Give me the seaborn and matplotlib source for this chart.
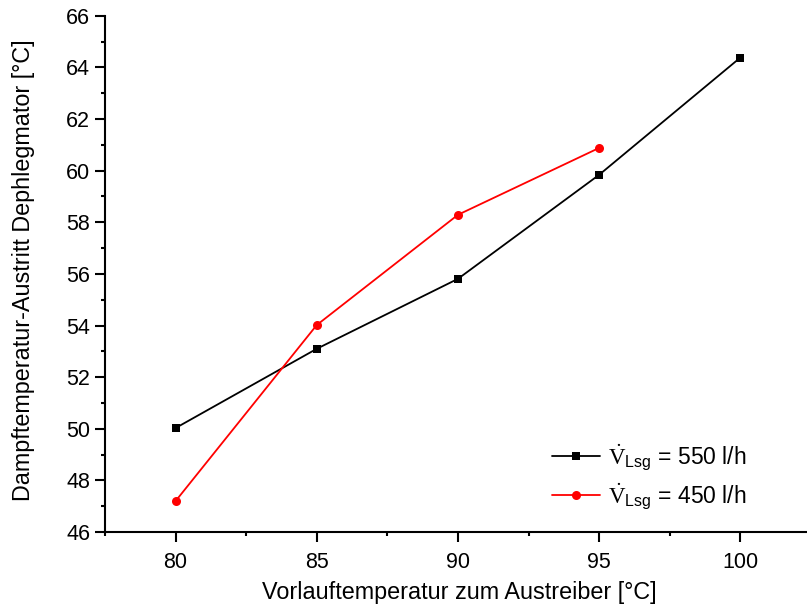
import seaborn as sns
import pandas as pd
import matplotlib
matplotlib.use('Agg')
import matplotlib.pyplot as plt
from matplotlib.ticker import MultipleLocator

# 数据
x_550 = [80, 85, 90, 95, 100]
y_550 = [50.03, 53.1, 55.81, 59.84, 64.38]
x_450 = [80, 85, 90, 95]
y_450 = [47.2, 54.02, 58.29, 60.88]
labels = [r'$\dot{\mathrm{V}}_{\mathsf{Lsg}}$ = 550 l/h',
          r'$\dot{\mathrm{V}}_{\mathsf{Lsg}}$ = 450 l/h']

sns.set_style('ticks')
plt.rcParams['font.family'] = ['Liberation Sans', 'DejaVu Sans']
plt.rcParams['mathtext.fontset'] = 'custom'
plt.rcParams['mathtext.rm'] = 'Liberation Serif'
plt.rcParams['mathtext.sf'] = 'Liberation Sans'
plt.rcParams['text.color'] = 'black'
plt.rcParams['axes.labelcolor'] = 'black'
plt.rcParams['xtick.color'] = 'black'
plt.rcParams['ytick.color'] = 'black'
plt.rcParams['axes.edgecolor'] = 'black'

fig = plt.figure(figsize=(8.07, 6.04), dpi=100)
ax = fig.add_axes([0.130, 0.119, 0.875, 0.855])

sns.lineplot(x=x_550, y=y_550, ax=ax, color='black', marker='s', markersize=6,
             markeredgewidth=0, linewidth=1.3, label=labels[0])
sns.lineplot(x=x_450, y=y_450, ax=ax, color='#ff0000', marker='o', markersize=6.5,
             markeredgewidth=0, linewidth=1.3, label=labels[1])

ax.set_xlim(77.5, 102.5)
ax.set_ylim(46, 66)
ax.xaxis.set_major_locator(MultipleLocator(5))
ax.xaxis.set_minor_locator(MultipleLocator(2.5))
ax.yaxis.set_major_locator(MultipleLocator(2))
ax.yaxis.set_minor_locator(MultipleLocator(1))
ax.tick_params(which='major', length=7, width=1.5, labelsize=15.5, direction='out')
ax.tick_params(which='minor', length=3, width=1.5, direction='out')
ax.tick_params(axis='x', which='major', pad=7)
for s in ['top', 'right']:
    ax.spines[s].set_visible(False)
for s in ['left', 'bottom']:
    ax.spines[s].set_linewidth(1.5)

ax.set_xlabel('Vorlauftemperatur zum Austreiber [°C]', fontsize=16.8)
ax.set_ylabel('Dampftemperatur-Austritt Dephlegmator [°C]', fontsize=16.8)
ax.xaxis.set_label_coords(0.502, -0.094)
ax.yaxis.set_label_coords(-0.099, 0.507)

ax.legend(loc='upper left', bbox_to_anchor=(0.61, 0.205), frameon=False, fontsize=16.5,
          handlelength=2.1, handletextpad=0.35, labelspacing=0.38, borderpad=0.2)

fig.savefig('out.png', dpi=100)
